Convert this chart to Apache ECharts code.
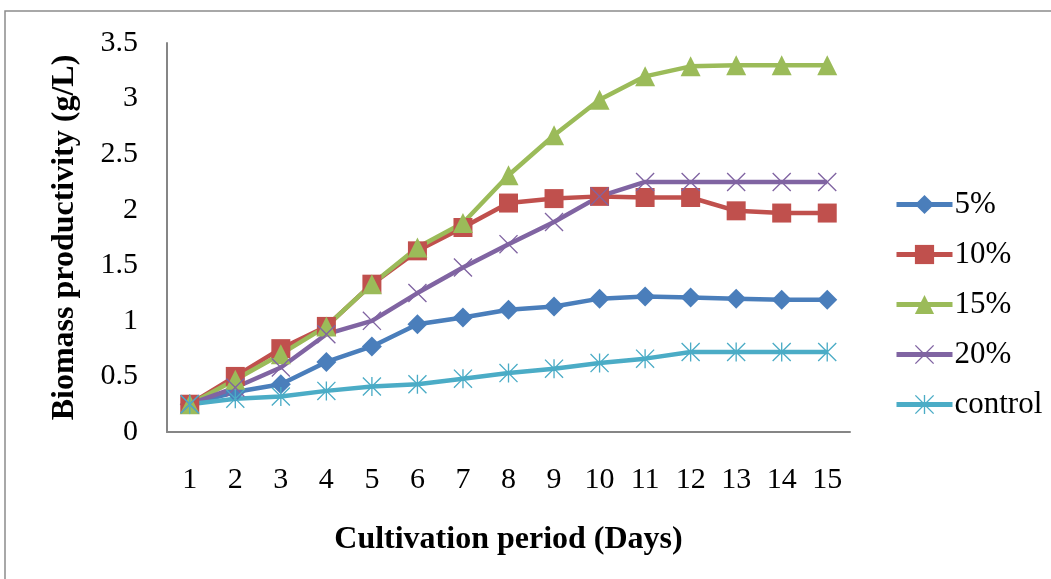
<!DOCTYPE html>
<html>
<head>
<meta charset="utf-8">
<script src="https://cdn.jsdelivr.net/npm/echarts@6/dist/echarts.min.js"></script>
<style>
  html, body { margin: 0; padding: 0; background: #fff; }
  #chart { width: 1051px; height: 579px; }
</style>
</head>
<body>
<div id="chart"></div>
<script>
var days = ['1', '2', '3', '4', '5', '6', '7', '8', '9', '10', '11', '12', '13', '14', '15'];
var pct5 = [0.25, 0.36, 0.43, 0.63, 0.77, 0.97, 1.03, 1.10, 1.13, 1.20, 1.22, 1.21, 1.20, 1.19, 1.19];
var pct10 = [0.25, 0.50, 0.75, 0.95, 1.33, 1.63, 1.84, 2.06, 2.10, 2.12, 2.11, 2.11, 1.99, 1.97, 1.97];
var pct15 = [0.25, 0.47, 0.70, 0.95, 1.33, 1.66, 1.88, 2.31, 2.67, 2.99, 3.20, 3.29, 3.30, 3.30, 3.30];
var pct20 = [0.25, 0.40, 0.58, 0.88, 1.00, 1.25, 1.48, 1.69, 1.89, 2.12, 2.25, 2.25, 2.25, 2.25, 2.25];
var control = [0.25, 0.30, 0.32, 0.37, 0.41, 0.43, 0.48, 0.53, 0.57, 0.62, 0.66, 0.72, 0.72, 0.72, 0.72];

// thin X and asterisk markers
var crossPath = 'path://M0,1 L1,0 L10,9 L19,0 L20,1 L11,10 L20,19 L19,20 L10,11 L1,20 L0,19 L9,10 Z';
var starPath = 'path://M0,1 L1,0 L10,9 L19,0 L20,1 L11,10 L20,19 L19,20 L10,11 L1,20 L0,19 L9,10 Z M9.3,0 L10.7,0 L10.7,20 L9.3,20 Z';

var font = 'Liberation Serif';

function mkSeries(name, data, color, symbol, size) {
    return {
        name: name,
        type: 'line',
        data: data,
        symbol: symbol,
        symbolSize: size,
        lineStyle: { color: color, width: 4.5 },
        itemStyle: { color: color },
        emphasis: { disabled: true }
    };
}

var myChart = echarts.init(document.getElementById('chart'));
myChart.setOption({
    animation: false,
    textStyle: { fontFamily: font },
    graphic: [{
        type: 'rect',
        shape: { x: 5, y: 11, width: 1200, height: 800 },
        style: { fill: 'none', stroke: '#8c8c8c', lineWidth: 1.5 },
        silent: true
    }],
    grid: { left: 167, top: 43, right: 201, bottom: 147 },
    legend: {
        orient: 'vertical',
        left: 889,
        top: 184,
        itemWidth: 56,
        itemHeight: 24,
        itemGap: 19,
        lineStyle: { width: 5 },
        textStyle: { fontFamily: font, fontSize: 31, color: '#000', padding: [0, 0, 0, -3] },
        data: ['5%', '10%', '15%', '20%', 'control']
    },
    xAxis: {
        type: 'category',
        data: days,
        boundaryGap: true,
        name: 'Cultivation period (Days)',
        nameLocation: 'middle',
        nameGap: 92,
        nameTextStyle: { fontFamily: font, fontSize: 32, fontWeight: 'bold', color: '#000' },
        axisLine: { lineStyle: { color: '#868686', width: 2 } },
        axisTick: { show: false },
        axisLabel: { fontFamily: font, fontSize: 30, color: '#000', margin: 33 }
    },
    yAxis: {
        type: 'value',
        min: 0,
        max: 3.5,
        interval: 0.5,
        name: 'Biomass productivity (g/L)',
        nameLocation: 'middle',
        nameGap: 86,
        nameTextStyle: { fontFamily: font, fontSize: 32, fontWeight: 'bold', color: '#000' },
        axisLine: { show: true, lineStyle: { color: '#868686', width: 2 } },
        axisTick: { show: false },
        splitLine: { show: false },
        axisLabel: { fontFamily: font, fontSize: 30, color: '#000', margin: 29 }
    },
    series: [
        mkSeries('5%', pct5, '#4a7ebb', 'diamond', [20, 20]),
        mkSeries('10%', pct10, '#c0504d', 'rect', 19),
        mkSeries('15%', pct15, '#9bbb59', 'triangle', 20),
        mkSeries('20%', pct20, '#8064a2', crossPath, 19),
        mkSeries('control', control, '#4bacc6', starPath, 19)
    ]
});
</script>
</body>
</html>
